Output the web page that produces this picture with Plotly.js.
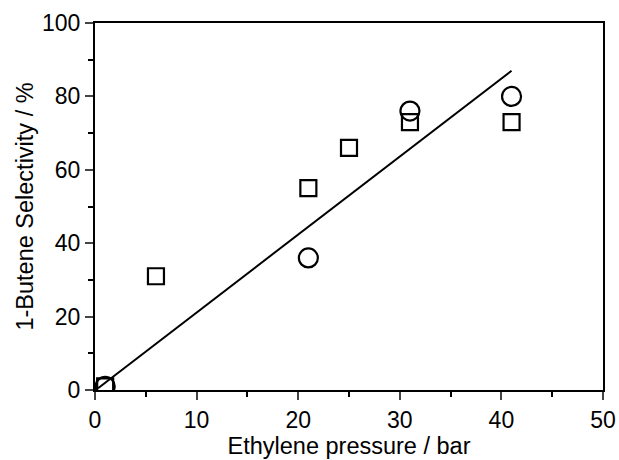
<!DOCTYPE html>
<html>
<head>
<meta charset="utf-8">
<script src="https://cdn.plot.ly/plotly-3.0.1.min.js"></script>
<style>html,body{margin:0;padding:0;background:#fff;}#chart{width:619px;height:460px;}</style>
</head>
<body>
<div id="chart"></div>
<script>
const squareX = [1, 6, 21, 25, 31, 41];
const squareY = [1, 31, 55, 66, 73, 73];
const circleX = [1, 21, 31, 41];
const circleY = [1, 36, 76, 80];
const fitX = [0.3, 41];
const fitY = [0.5, 87];

const traces = [
  {x: fitX, y: fitY, mode: 'lines', line: {color: '#000', width: 2}, showlegend: false, hoverinfo: 'skip'},
  {x: squareX, y: squareY, mode: 'markers', type: 'scatter', showlegend: false,
   marker: {symbol: 'square-open', size: 16, color: '#000', line: {width: 2.2, color: '#000'}}},
  {x: circleX, y: circleY, mode: 'markers', type: 'scatter', showlegend: false,
   marker: {symbol: 'circle-open', size: 19, color: '#000', line: {width: 2.2, color: '#000'}}}
];

const tickFont = {family: 'Liberation Sans, Arial, sans-serif', size: 23, color: '#000'};
const titleFont = {family: 'Liberation Sans, Arial, sans-serif', size: 23.5, color: '#000'};
const layout = {
  width: 619, height: 460,
  margin: {l: 95, r: 16, t: 23, b: 70},
  paper_bgcolor: '#fff', plot_bgcolor: '#fff',
  font: tickFont,
  xaxis: {
    range: [0, 50], tickvals: [0, 10, 20, 30, 40, 50], ticks: 'outside', ticklen: 8, tickwidth: 2,
    minor: {tickvals: [5, 15, 25, 35, 45], ticks: 'outside', ticklen: 5, tickwidth: 2, tickcolor: '#000'},
    showgrid: false, zeroline: false, showline: true, linewidth: 2, linecolor: '#000', mirror: true,
    tickfont: tickFont,
    title: {text: 'Ethylene pressure / bar', font: titleFont, standoff: 4}
  },
  yaxis: {
    range: [0, 100], tickvals: [0, 20, 40, 60, 80, 100], ticks: 'outside', ticklen: 8, tickwidth: 2,
    minor: {tickvals: [10, 30, 50, 70, 90], ticks: 'outside', ticklen: 5, tickwidth: 2, tickcolor: '#000'},
    showgrid: false, zeroline: false, showline: true, linewidth: 2, linecolor: '#000', mirror: true,
    tickfont: tickFont,
    title: {text: '1-Butene Selectivity / %', font: titleFont, standoff: 2}
  }
};
Plotly.newPlot('chart', traces, layout, {displayModeBar: false, staticPlot: true});
</script>
</body>
</html>
